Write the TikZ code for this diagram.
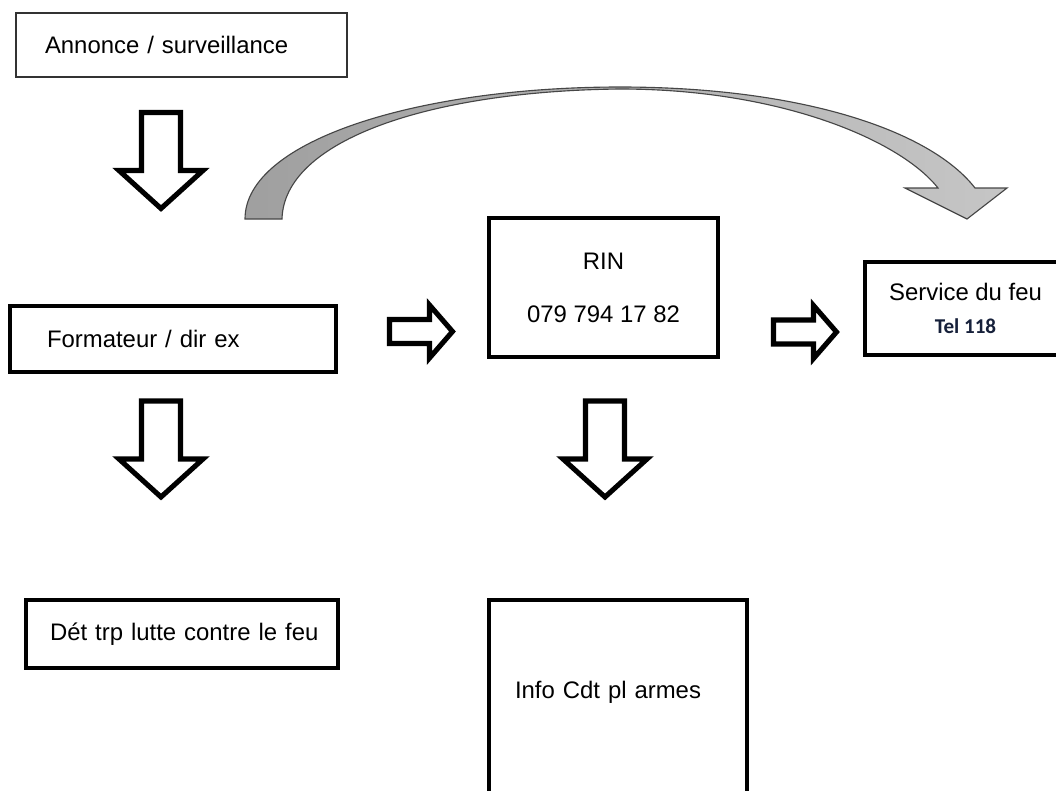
\documentclass[tikz,border=0pt]{standalone}
\usepackage{fontspec}
\setmainfont{Liberation Sans}
\newfontfamily\telfont{Carlito}
\usepackage{xcolor}
\usepackage{tikz}
\definecolor{telblue}{RGB}{22,32,58}
\definecolor{arcgray}{RGB}{70,70,70}
\newcommand{\pxl}{0.025cm}

\tikzset{
  box/.style={draw, line width=3pt, font=\fontsize{17}{20}\selectfont},
  thinbox/.style={draw=black!80, line width=0.9pt, font=\fontsize{17}{20}\selectfont},
  blockline/.style={draw, fill=white, line width=3.6pt},
  downarrow/.pic={\draw[blockline] (-19.5,0) -- (19.5,0) -- (19.5,58) -- (42,58) -- (0,96) -- (-42,58) -- (-19.5,58) -- cycle;},
  rightarrow/.pic={\draw[blockline] (0,-12) -- (40,-12) -- (40,-26.5) -- (63,0) -- (40,26.5) -- (40,12) -- (0,12) -- cycle;}
}

\begin{document}
\begin{tikzpicture}[x=0.025cm, y=-0.025cm]
\useasboundingbox (0,0) rectangle (1056,790);
% Boxes
\node[thinbox, minimum height=64*\pxl, text width=273*\pxl, inner xsep=29*\pxl] (annonce) at (181.5,45) {Annonce / surveillance};
\node[box, minimum height=66*\pxl, text width=252*\pxl, inner xsep=37*\pxl] (formateur) at (173,339) {Formateur / dir ex};
\node[box, align=center, minimum width=229*\pxl, minimum height=139*\pxl] (rin) at (603.5,287.5) {RIN\\[17.7pt]079 794 17 82};
\node[box, align=center, minimum width=201*\pxl, minimum height=93*\pxl] (service) at (965.5,308.5) {Service du feu\\[3pt]{\telfont\bfseries\fontsize{15}{18}\selectfont\color{telblue}Tel 118}};
\node[box, minimum height=68*\pxl, text width=264*\pxl, inner xsep=24*\pxl] (det) at (182,634) {\mbox{Dét trp lutte contre le feu}};
\node[box, minimum height=200*\pxl, text width=206*\pxl, inner xsep=26*\pxl, text depth=20*\pxl] (info) at (618,700) {Info Cdt pl armes};
% Block arrows
\pic at (161,112.5) {downarrow};
\pic at (161,401) {downarrow};
\pic at (605,401) {downarrow};
\pic at (389.5,331.5) {rightarrow};
\pic at (773.5,332) {rightarrow};
% Curved arrow to the fire service
\draw[draw=arcgray, line width=0.8pt, left color=gray!75, right color=gray!45]
  (245,219) .. controls (245,140) and (420,87) .. (620,87)
  .. controls (800,87) and (930,130) .. (975,188)
  -- (1007,188) -- (967,219) -- (905,188) -- (938,188)
  .. controls (900,140) and (780,89) .. (620,89)
  .. controls (430,91) and (284,140) .. (282,219)
  -- cycle;
\end{tikzpicture}
\end{document}
